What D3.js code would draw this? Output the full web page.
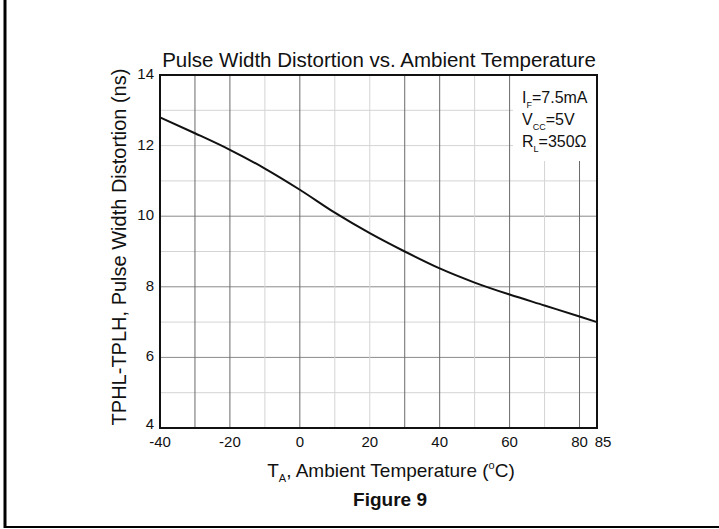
<!DOCTYPE html>
<html lang="en">
<head>
  <meta charset="UTF-8">
  <title>Pulse Width Distortion vs. Ambient Temperature</title>
  <script src="https://d3js.org/d3.v7.min.js"></script>
  <style type="text/css">
    body {
      margin: 0;
      background: #fff;
    }
    svg text {
      font-family: Arial, 'Liberation Sans', Helvetica, sans-serif;
      fill: #111;
    }
  </style>
</head>
<body>
<div id="chart"></div>
<script>
  // curve (temperature in degC, distortion in ns)
  var temps = [-40, -30, -20, -10, 0, 10, 20, 30, 40, 50, 60, 70, 80, 85];
  var distortion = [12.80, 12.35, 11.88, 11.35, 10.75, 10.10, 9.52, 9.00, 8.52, 8.12, 7.78, 7.47, 7.16, 7.00];

  var xTicks = [-40, -20, 0, 20, 40, 60, 80, 85];
  var yTicks = [4, 6, 8, 10, 12, 14];
  var xGridDark = [-30, -20, 0, 30, 40, 60, 80];
  var xGridLight = [-10, 10, 20, 50, 70];
  var yGridDark = [6, 8, 10];
  var yGridLight = [5, 7, 9, 11, 12, 13];

  function main () {
    var W = 719, H = 529,
      LEFT = 160, RIGHT = 597, TOP = 75, BOTTOM = 428;

    var svg = d3.select('#chart').append('svg')
      .attr('width', W)
      .attr('height', H);

    // outer frame (left + bottom edges of the page box)
    svg.append('line')
      .attr('x1', 5).attr('x2', 5).attr('y1', 0).attr('y2', 528)
      .attr('stroke', '#000').attr('stroke-width', 3);
    svg.append('line')
      .attr('x1', 4).attr('x2', W).attr('y1', 527).attr('y2', 527)
      .attr('stroke', '#000').attr('stroke-width', 2);

    var x = d3.scaleLinear().domain([-40, 85]).range([LEFT, RIGHT]);
    var y = d3.scaleLinear().domain([4, 14]).range([BOTTOM, TOP]);

    var grid = svg.append('g');

    grid.selectAll('.hl').data(yGridLight).enter().append('line')
      .attr('x1', LEFT).attr('x2', RIGHT)
      .attr('y1', function (d) { return y(d); })
      .attr('y2', function (d) { return y(d); })
      .attr('stroke', '#d4d4d4').attr('stroke-width', 1);
    grid.selectAll('.hd').data(yGridDark).enter().append('line')
      .attr('x1', LEFT).attr('x2', RIGHT)
      .attr('y1', function (d) { return y(d); })
      .attr('y2', function (d) { return y(d); })
      .attr('stroke', '#8a8a8a').attr('stroke-width', 1);
    grid.selectAll('.vl').data(xGridLight).enter().append('line')
      .attr('y1', TOP).attr('y2', BOTTOM)
      .attr('x1', function (d) { return x(d); })
      .attr('x2', function (d) { return x(d); })
      .attr('stroke', '#d4d4d4').attr('stroke-width', 1);
    grid.selectAll('.vd').data(xGridDark).enter().append('line')
      .attr('y1', TOP).attr('y2', BOTTOM)
      .attr('x1', function (d) { return x(d); })
      .attr('x2', function (d) { return x(d); })
      .attr('stroke', '#6a6a6a').attr('stroke-width', 1);

    // legend box blanks the grid behind it
    svg.append('rect')
      .attr('x', 513).attr('y', TOP + 1)
      .attr('width', RIGHT - 514).attr('height', 85)
      .attr('fill', '#fff');

    // curve
    var line = d3.line()
      .x(function (d) { return x(d[0]); })
      .y(function (d) { return y(d[1]); })
      .curve(d3.curveMonotoneX);
    svg.append('path')
      .datum(temps.map(function (t, i) { return [t, distortion[i]]; }))
      .attr('d', line)
      .attr('fill', 'none')
      .attr('stroke', '#111')
      .attr('stroke-width', 2);

    // frame
    svg.append('rect')
      .attr('x', LEFT).attr('y', TOP)
      .attr('width', RIGHT - LEFT).attr('height', BOTTOM - TOP)
      .attr('fill', 'none')
      .attr('stroke', '#111')
      .attr('stroke-width', 2);

    // tick labels
    svg.selectAll('.xt').data(xTicks).enter().append('text')
      .attr('x', function (d) { return d === 85 ? x(d) + 6 : x(d); })
      .attr('y', 447)
      .attr('text-anchor', 'middle')
      .style('font-size', '15px')
      .text(function (d) { return d; });
    svg.selectAll('.yt').data(yTicks).enter().append('text')
      .attr('x', 154)
      .attr('y', function (d) { return d === 4 ? y(d) + 1 : y(d) + 4; })
      .attr('text-anchor', 'end')
      .style('font-size', '15px')
      .text(function (d) { return d; });

    // titles
    svg.append('text')
      .attr('x', 379).attr('y', 67)
      .attr('text-anchor', 'middle')
      .style('font-size', '20.5px')
      .text('Pulse Width Distortion vs. Ambient Temperature');

    svg.append('text')
      .attr('transform', 'translate(126,' + 247 + ') rotate(-90)')
      .attr('text-anchor', 'middle')
      .style('font-size', '20px')
      .text('TPHL-TPLH, Pulse Width Distortion (ns)');

    var xt = svg.append('text')
      .attr('x', 391).attr('y', 477)
      .attr('text-anchor', 'middle')
      .style('font-size', '19px');
    xt.append('tspan').text('T');
    xt.append('tspan').attr('dy', 5).style('font-size', '11px').text('A');
    xt.append('tspan').attr('dy', -5).text(', Ambient Temperature (');
    xt.append('tspan').attr('dy', -8).style('font-size', '11px').text('o');
    xt.append('tspan').attr('dy', 8).text('C)');

    svg.append('text')
      .attr('x', 390).attr('y', 506)
      .attr('text-anchor', 'middle')
      .style('font-size', '19px')
      .style('font-weight', 'bold')
      .text('Figure 9');

    // legend
    var legend = [
      {main: 'I', sub: 'F', rest: '=7.5mA'},
      {main: 'V', sub: 'CC', rest: '=5V'},
      {main: 'R', sub: 'L', rest: '=350\u03A9'}
    ];
    legend.forEach(function (d, i) {
      var t = svg.append('text')
        .attr('x', 522).attr('y', 103 + i * 22)
        .style('font-size', '16px');
      t.append('tspan').text(d.main);
      t.append('tspan').attr('dy', 5).style('font-size', '9px').text(d.sub);
      t.append('tspan').attr('dy', -5).text(d.rest);
    });
  }

  main();
</script>
</body>
</html>
